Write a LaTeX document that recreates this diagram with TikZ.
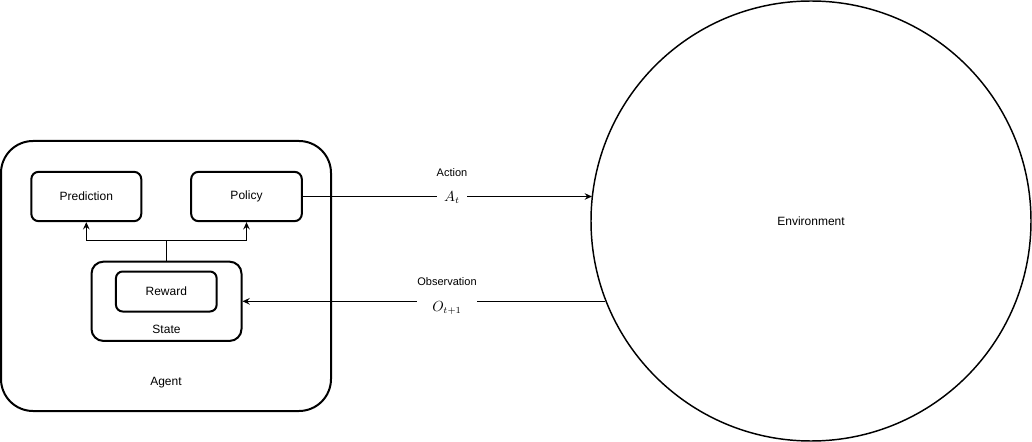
\documentclass[tikz,border=0pt]{standalone}
\usepackage{fontspec}
\setmainfont{Liberation Sans}
\usetikzlibrary{arrows.meta,positioning}

\newcommand{\mathlbl}[1]{{\fontsize{10.5}{12}\selectfont$#1$}}

\begin{document}
\begin{tikzpicture}[x=0.75pt,y=-0.75pt]
\tikzset{
  outerbox/.style={rectangle,draw,line width=1.5pt,rounded corners=24pt,minimum width=247.5pt,minimum height=202.5pt,inner sep=0pt},
  blockbox/.style={rectangle,draw,line width=1.5pt,rounded corners=5.5pt,inner sep=0pt,font=\fontsize{9}{10.8}\selectfont},
  envnode/.style={circle,draw,line width=1.1pt,minimum size=330pt,inner sep=0pt,font=\fontsize{9}{10.8}\selectfont},
  boxlabel/.style={inner sep=0pt,font=\fontsize{9}{10.8}\selectfont},
  edgelabel/.style={fill=white,inner sep=0pt,align=center,font=\fontsize{8.25}{19}\selectfont},
  directed/.style={-{Stealth[length=5.5pt,width=5pt,inset=2pt]},line width=0.75pt},
  undirected/.style={line width=0.75pt}
}
\useasboundingbox (0,0) rectangle (1032,442);
\node[outerbox] (agent) at (166,276) {};
\node[blockbox,minimum width=82.5pt,minimum height=37pt] (pred) at (86.3,196.5) {Prediction};
\node[blockbox,minimum width=83pt,minimum height=37pt] (policy) at (246.5,196.5) {Policy};
\node[blockbox,rounded corners=9pt,minimum width=112.5pt,minimum height=59.5pt] (state) at (166.5,301.3) {};
\node[blockbox,rounded corners=5pt,minimum width=75.5pt,minimum height=30pt] (reward) at (166.3,291.5) {Reward};
\node[boxlabel] (statelbl) at (166.5,329) {State};
\node[boxlabel] (agentlbl) at (166,383) {Agent};
\node[envnode] (env) at (811,221) {Environment};
\draw[undirected] (state.north) -- ++(0,-20) coordinate (split);
\draw[directed] (split) -| (pred.south);
\draw[directed] (split) -| (policy.south);
\draw[directed] (policy.east) -- (policy.east -| env.173.7);
\draw[directed] (state.east -| env.201.3) -- (state.east);
\node[edgelabel] (actlbl) at (452,186) {Action\\\mathlbl{A_t}};
\node[edgelabel] (obslbl) at (447,296) {Observation\\\mathlbl{O_{t+1}}};
\end{tikzpicture}
\end{document}
